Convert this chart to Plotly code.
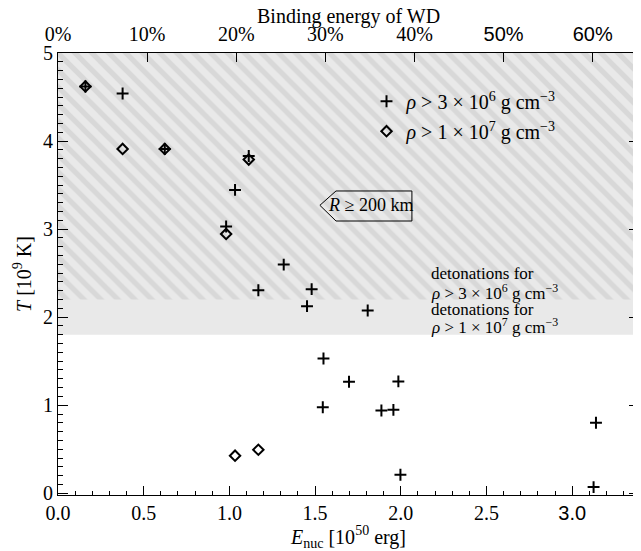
import plotly.graph_objects as go

# ---------------- data ----------------
E_plus = [0.16, 0.377, 0.623, 1.113, 1.033, 0.981, 1.317, 1.169, 1.480, 1.453,
          1.807, 1.549, 1.698, 1.986, 1.545, 1.887, 1.957, 3.139, 1.998, 3.125]
T_plus = [4.62, 4.54, 3.91, 3.83, 3.445, 3.03, 2.597, 2.306, 2.318, 2.125,
          2.075, 1.53, 1.266, 1.27, 0.977, 0.94, 0.947, 0.80, 0.21, 0.07]

E_diam = [0.16, 0.377, 0.623, 1.113, 0.981, 1.033, 1.169]
T_diam = [4.62, 3.91, 3.91, 3.79, 2.945, 0.426, 0.494]

E_BIND = 5.2            # binding energy of WD [1e50 erg]
X_RANGE = [0, 3.39]
Y_RANGE = [-0.02, 5]
T_DET_LOW = 1.8         # detonations for rho > 1e7
T_DET_HIGH = 2.2        # detonations for rho > 3e6

x_ticks = [0.0, 0.5, 1.0, 1.5, 2.0, 2.5, 3.0]
x_ticklabels = ["0.0", "0.5", "1.0", "1.5", "2.0", "2.5", "3.0"]
y_ticks = [0, 1, 2, 3, 4, 5]
pct_ticks = [0, 10, 20, 30, 40, 50, 60]

SERIF = "Liberation Serif"
SANS = "Liberation Sans"

def sans(s):
    return f'<span style="font-family:{SANS}">{s}</span>'

pct_labels = [f"{p}%" if p < 50 else sans(f"{p}%") for p in pct_ticks]
x_labels = [l if l != "3.0" else sans(l) for l in x_ticklabels]

LAB_PLUS = "<i>ρ</i> > 3 × 10<sup>6</sup> g cm<sup>−3</sup>"
LAB_DIAM = "<i>ρ</i> > 1 × 10<sup>7</sup> g cm<sup>−3</sup>"

PCT_MAX = 100 * X_RANGE[1] / E_BIND

# ---------------- figure ----------------
fig = go.Figure()

# solid grey band (detonation zone)
fig.add_shape(type="rect", xref="x", yref="y", x0=X_RANGE[0], x1=X_RANGE[1],
              y0=T_DET_LOW, y1=Y_RANGE[1], fillcolor="#e9e9e9",
              line_width=0, layer="below")

# hatched region
fig.add_trace(go.Scatter(
    x=[X_RANGE[0], X_RANGE[1], X_RANGE[1], X_RANGE[0], X_RANGE[0]],
    y=[T_DET_HIGH, T_DET_HIGH, Y_RANGE[1], Y_RANGE[1], T_DET_HIGH],
    mode="none", fill="toself", fillcolor="#e9e9e9",
    fillpattern=dict(shape="\\", fgcolor="#c8c8c8", bgcolor="#e9e9e9",
                     size=12, solidity=0.45),
    hoverinfo="skip", showlegend=False))

# invisible helper so that the top (percent) axis is rendered
fig.add_trace(go.Scatter(
    x=[0, PCT_MAX], y=Y_RANGE, xaxis="x2", yaxis="y", mode="markers",
    marker=dict(opacity=0), hoverinfo="skip", showlegend=False))

fig.add_trace(go.Scatter(
    x=E_plus, y=T_plus, mode="markers", name=LAB_PLUS, legend="legend",
    marker=dict(symbol="cross-thin-open", size=8.5, color="black",
                line=dict(width=2, color="black"))))

fig.add_trace(go.Scatter(
    x=E_diam, y=T_diam, mode="markers", name=LAB_DIAM, legend="legend2",
    marker=dict(symbol="diamond-open", size=8, color="black",
                line=dict(width=2, color="black"))))

# R >= 200 km label box (pentagon pointing left)
bx_tip, bx_l, bx_r = 1.528, 1.622, 2.065
by_mid, by_top, by_bot = 3.27, 3.433, 3.092
fig.add_shape(type="path", xref="x", yref="y",
              path=f"M {bx_tip},{by_mid} L {bx_l},{by_top} L {bx_r},{by_top} "
                   f"L {bx_r},{by_bot} L {bx_l},{by_bot} Z",
              line=dict(color="black", width=1))
fig.add_annotation(x=(bx_l + bx_r) / 2 - 0.02, y=by_mid, xref="x", yref="y",
                   text="<i>R</i> ≥ 200 km", showarrow=False,
                   font=dict(family=SERIF, size=18, color="black"))

# detonation labels
det_lines = [("detonations for", 2.495), (LAB_PLUS, 2.29),
             ("detonations for", 2.085), (LAB_DIAM, 1.895)]
for txt, yy in det_lines:
    fig.add_annotation(x=2.168, y=yy, xref="x", yref="y", xanchor="left",
                       yanchor="middle", text=txt, showarrow=False,
                       borderpad=0,
                       font=dict(family=SERIF, size=17, color="black"))

# top axis title
fig.add_annotation(x=0.5, y=1.083, xref="paper", yref="paper",
                   xanchor="center", yanchor="middle",
                   text="Binding energy of WD", showarrow=False,
                   borderpad=0,
                   font=dict(family=SERIF, size=20, color="black"))

axis_common = dict(showgrid=False, zeroline=False, color="black",
                   automargin=False,
                   tickfont=dict(family=SERIF, size=20, color="black"))

# the page body has an 8 px default margin; the figure is sized to compensate
fig.update_layout(
    width=633, height=543,
    margin=dict(l=50, r=2, t=45, b=56),
    paper_bgcolor="white", plot_bgcolor="white",
    font=dict(family=SERIF, size=20, color="black"),
    xaxis=dict(range=X_RANGE, tickvals=x_ticks, ticktext=x_labels,
               ticks="inside", ticklen=9, tickwidth=1, tickcolor="black",
               showline=True, linecolor="black", linewidth=1, mirror=True,
               ticklabelstandoff=0,
               minor=dict(dtick=0.1, tick0=0, ticks="inside", ticklen=4.5,
                          tickcolor="black", showgrid=False),
               title=dict(text="<i>E</i><sub>nuc</sub> [10<sup>50</sup> erg]",
                          font=dict(family=SERIF, size=20), standoff=3),
               **axis_common),
    xaxis2=dict(range=[0, PCT_MAX], overlaying="x",
                side="top", anchor="y", tickvals=pct_ticks, ticktext=pct_labels,
                ticks="inside", ticklen=9, tickwidth=1, tickcolor="black",
                showline=False, ticklabelstandoff=7,
                **axis_common),
    yaxis=dict(range=Y_RANGE, tickvals=y_ticks, ticks="inside", ticklen=10,
               tickwidth=1, tickcolor="black", showline=True, linecolor="black",
               linewidth=1, mirror="ticks",
               minor=dict(dtick=0.1, tick0=0, ticks="inside", ticklen=5,
                          tickcolor="black", showgrid=False),
               title=dict(text="<i>T</i> [10<sup>9</sup> K]",
                          font=dict(family=SERIF, size=20), standoff=6),
               **axis_common),
    legend=dict(x=0.531, y=0.891, xanchor="left", yanchor="middle",
                bgcolor="rgba(0,0,0,0)", font=dict(family=SERIF, size=20),
                itemwidth=30),
    legend2=dict(x=0.531, y=0.823, xanchor="left", yanchor="middle",
                 bgcolor="rgba(0,0,0,0)", font=dict(family=SERIF, size=20),
                 itemwidth=30),
    showlegend=True,
)

fig.write_html("out.html")
